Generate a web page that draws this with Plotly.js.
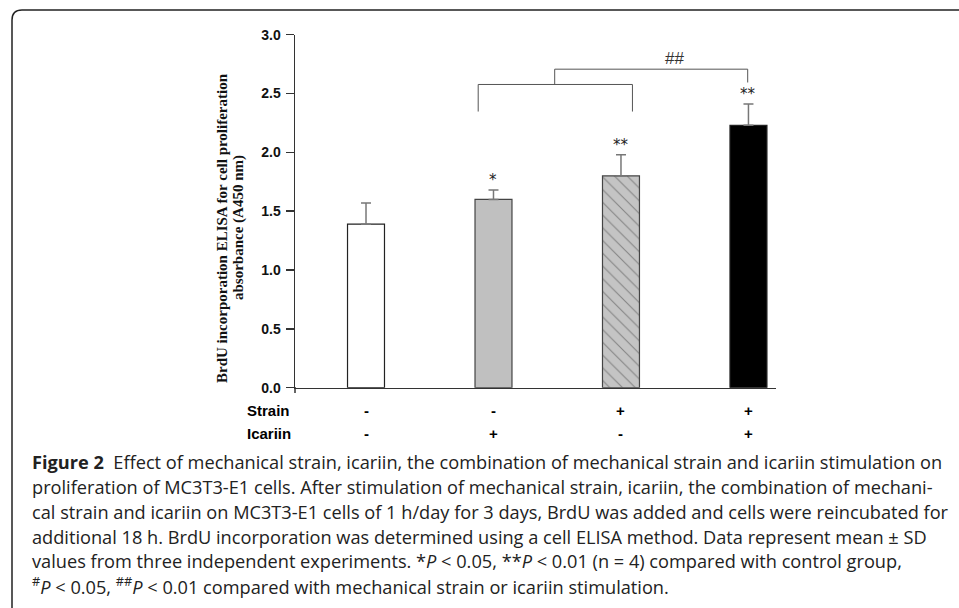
<!DOCTYPE html>
<html>
<head>
<meta charset="utf-8">
<script src="https://cdn.plot.ly/plotly-3.0.1.min.js"></script>
<style>html,body{margin:0;padding:0;background:#fff;}#chart{width:959px;height:608px;}</style>
</head>
<body>
<div id="chart"></div>
<script>
// ---- data ----
var groups = ["Control", "Icariin", "Strain", "Strain+Icariin"];
var means = [1.39, 1.60, 1.80, 2.23];
var sdUp = [0.18, 0.08, 0.18, 0.18];
var stars = ["", "*", "**", "**"];
var strainSigns = ["-", "-", "+", "+"];
var icariinSigns = ["-", "+", "-", "+"];
var yTicks = [0, 0.5, 1.0, 1.5, 2.0, 2.5, 3.0];
var yTickText = ["0.0", "0.5", "1.0", "1.5", "2.0", "2.5", "3.0"];
var yTitleLines = ["BrdU incorporation ELISA for cell proliferation", "absorbance (A450 nm)"];
var captionLines = [
  "<b>Figure 2</b>  Effect of mechanical strain, icariin, the combination of mechanical strain and icariin stimulation on",
  "proliferation of MC3T3-E1 cells. After stimulation of mechanical strain, icariin, the combination of mechani-",
  "cal strain and icariin on MC3T3-E1 cells of 1 h/day for 3 days, BrdU was added and cells were reincubated for",
  "additional 18 h. BrdU incorporation was determined using a cell ELISA method. Data represent mean ± SD",
  "values from three independent experiments. *<i>P</i> &lt; 0.05, **<i>P</i> &lt; 0.01 (n = 4) compared with control group,",
  "<sup>#</sup><i>P</i> &lt; 0.05, <sup>##</sup><i>P</i> &lt; 0.01 compared with mechanical strain or icariin stimulation."
];

var W = 959, H = 608;
function px(x){ return x / W; }
function py(y){ return 1 - y / H; }

var xIdx = groups.map(function(_, i){ return i; });

var trace = {
  type: "bar",
  x: xIdx,
  y: means,
  width: 0.29,
  marker: {
    color: ["#ffffff", "#c0c0c0", "#c4c4c4", "#000000"],
    line: {color: ["#222", "#444", "#444", "#222"], width: 1.2},
    pattern: {shape: ["", "", "\\", ""], fillmode: "overlay", fgcolor: "#333", size: 9, solidity: 0.12}
  },
  error_y: {type: "data", symmetric: false, array: sdUp, arrayminus: [0,0,0,0], color: "#777", thickness: 1.5, width: 5},
  hoverinfo: "none"
};

var ann = [];
// y-axis title (two lines)
var titleX = [222, 238];
for (var t = 0; t < yTitleLines.length; t++) {
  ann.push({xref: "paper", yref: "paper", x: px(titleX[t]), y: py(228), text: "<b>" + yTitleLines[t] + "</b>",
    textangle: -90, showarrow: false, font: {family: "Liberation Serif, Times New Roman, serif", size: 15, color: "#111"}, xanchor: "center", yanchor: "middle"});
}
// stars
for (var i = 0; i < groups.length; i++) {
  if (stars[i]) ann.push({xref: "x", yref: "y", x: i, y: means[i] + sdUp[i], yshift: -1, text: stars[i], showarrow: false, xanchor: "center", yanchor: "bottom",
    font: {family: "DejaVu Sans, sans-serif", size: 15, color: "#222"}});
}
// ## label
ann.push({xref: "x", yref: "y", x: 2.42, y: 2.80, text: "##", showarrow: false, xanchor: "center", yanchor: "middle",
  font: {family: "Liberation Sans, Arial, sans-serif", size: 17, color: "#333"}});
// Strain / Icariin rows
var rowFont = {family: "Liberation Sans, Arial, sans-serif", size: 15, color: "#000", weight: "bold"};
var rowY = [410, 433];
ann.push({xref: "paper", yref: "paper", x: px(245), y: py(rowY[0]), text: "<b>Strain</b>", showarrow: false, xanchor: "left", yanchor: "middle", font: rowFont});
ann.push({xref: "paper", yref: "paper", x: px(245), y: py(rowY[1]), text: "<b>Icariin</b>", showarrow: false, xanchor: "left", yanchor: "middle", font: rowFont});
for (var j = 0; j < groups.length; j++) {
  ann.push({xref: "x", yref: "paper", x: j, y: py(rowY[0]), text: "<b>" + strainSigns[j] + "</b>", showarrow: false, xanchor: "center", yanchor: "middle", font: rowFont});
  ann.push({xref: "x", yref: "paper", x: j, y: py(rowY[1]), text: "<b>" + icariinSigns[j] + "</b>", showarrow: false, xanchor: "center", yanchor: "middle", font: rowFont});
}
// caption
var capY = [462, 487, 512, 537, 561, 585];
for (var k = 0; k < captionLines.length; k++) {
  ann.push({xref: "paper", yref: "paper", x: px(30), y: py(capY[k]), text: captionLines[k], showarrow: false, xanchor: "left", yanchor: "middle",
    font: {family: "Open Sans, sans-serif", size: 18.2, color: "#222"}});
}

var gray = "#555";
var shapes = [
  // frame
  {type: "path", xref: "paper", yref: "paper",
   path: "M " + px(12) + "," + py(608) + " L " + px(12) + "," + py(20) + " Q " + px(12) + "," + py(10) + " " + px(22) + "," + py(10) + " L " + px(959) + "," + py(10),
   line: {color: "#222", width: 1.5}},
  // lower bracket (Icariin vs Strain)
  {type: "path", xref: "x", yref: "y", path: "M 0.88,2.347 L 0.88,2.577 L 2.09,2.577 L 2.09,2.347", line: {color: gray, width: 1}},
  // upper bracket
  {type: "path", xref: "x", yref: "y", path: "M 1.48,2.577 L 1.48,2.707 L 2.994,2.707 L 2.994,2.594", line: {color: gray, width: 1}},
  // y axis extension below zero
  {type: "line", xref: "paper", yref: "paper", x0: px(295), x1: px(295), y0: py(387), y1: py(393), line: {color: "#333", width: 1.5}}
];

var layout = {
  width: W, height: H,
  margin: {l: 0, r: 0, t: 0, b: 0},
  paper_bgcolor: "#fff", plot_bgcolor: "#fff",
  showlegend: false,
  xaxis: {domain: [px(295), px(776)], range: [-0.557, 3.216], showticklabels: false, ticks: "", showgrid: false, zeroline: false,
          showline: true, linecolor: "#333", linewidth: 1.5, fixedrange: true},
  yaxis: {domain: [py(387.7), py(34.7)], range: [0, 3], tickvals: yTicks, ticktext: yTickText, ticks: "outside", ticklen: 8, tickwidth: 1.5, tickcolor: "#333",
          showgrid: false, zeroline: false, showline: true, linecolor: "#333", linewidth: 1.5,
          tickfont: {family: "Liberation Sans, Arial, sans-serif", size: 14, color: "#111", weight: "bold"}, ticklabelstandoff: 2, fixedrange: true},
  annotations: ann,
  shapes: shapes
};

Plotly.newPlot("chart", [trace], layout, {staticPlot: true, displayModeBar: false});
</script>
</body>
</html>
